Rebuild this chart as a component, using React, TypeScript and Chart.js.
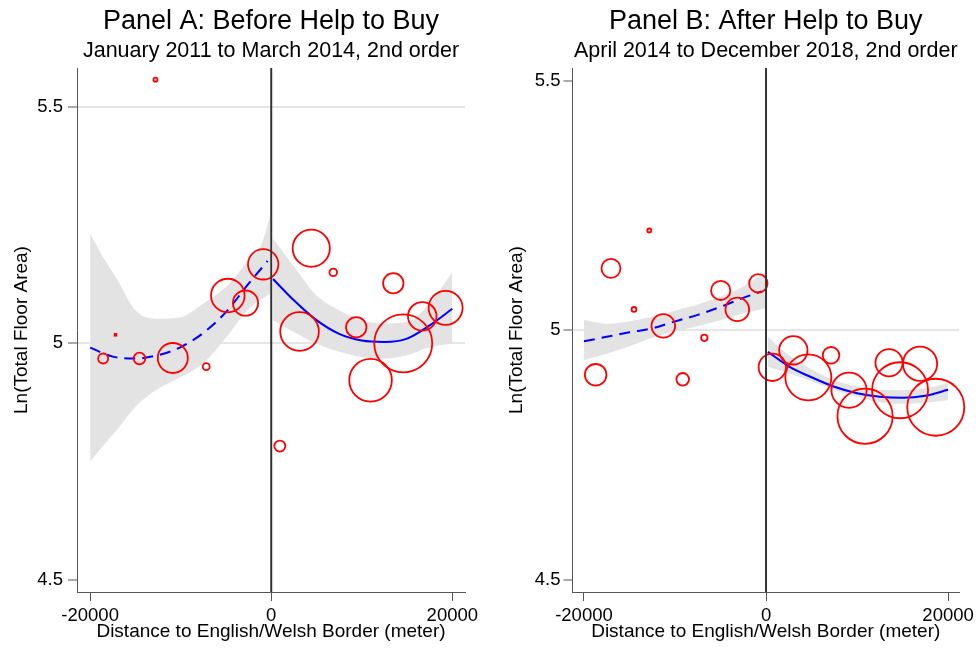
import React, { useEffect, useRef } from "react";
import { Chart, registerables } from "chart.js";

Chart.register(...registerables);

// ---------- shared ticks ----------
const xTickValues = [-20000, 0, 20000];
const yTickValues = [4.5, 5, 5.5];

// ---------- Panel A: Before Help to Buy ----------
const binXA = [-18560, -14550, -12785, -10870, -7180, -4795, -2840, -884, 950, 3127, 4420, 6850, 9390, 10970, 13480, 14580, 16680, 19260];
const binYA = [4.968, 4.968, 5.557, 4.969, 4.951, 5.101, 5.085, 5.167, 4.783, 5.025, 5.201, 5.150, 5.034, 4.922, 5.127, 5.0, 5.057, 5.075];
const binRadiusA = [5, 5.8, 2, 15, 3.5, 16.8, 12.6, 15.2, 5.5, 19.3, 18.6, 3.8, 10.2, 21.3, 10.2, 29, 14.3, 17];
const tinyXA = [-17200];
const tinyYA = [5.018];

const fitLeftXA = [-20000, -17500, -15000, -12500, -10000, -7500, -5000, -2500, -400];
const fitLeftYA = [4.991, 4.972, 4.968, 4.975, 4.992, 5.022, 5.066, 5.126, 5.174];
const bandLeftXA = [-20000, -18500, -17000, -15000, -12500, -10000, -7500, -5000, -2500, -1200, -100];
const bandLeftUpA = [5.231, 5.180, 5.135, 5.070, 5.052, 5.055, 5.084, 5.119, 5.175, 5.203, 5.270];
const bandLeftLoA = [4.750, 4.785, 4.818, 4.866, 4.904, 4.929, 4.958, 5.012, 5.072, 5.092, 5.105];

const fitRightXA = [200, 2500, 5000, 7500, 10000, 12500, 15000, 17500, 20000];
const fitRightYA = [5.136, 5.091, 5.049, 5.020, 5.006, 5.003, 5.010, 5.038, 5.073];
const bandRightUpA = [5.221, 5.163, 5.101, 5.070, 5.049, 5.042, 5.045, 5.084, 5.150];
const bandRightLoA = [5.049, 5.024, 4.999, 4.982, 4.971, 4.968, 4.975, 4.992, 4.999];

// ---------- Panel B: After Help to Buy ----------
const binXB = [-18714, -17033, -14505, -12824, -11286, -9154, -6780, -4978, -3154, -846, 692, 3000, 4648, 7143, 9121, 10879, 13516, 14725, 16923, 18648];
const binYB = [4.911, 5.124, 5.042, 5.200, 5.009, 4.902, 4.985, 5.080, 5.042, 5.094, 4.926, 4.960, 4.906, 4.950, 4.880, 4.828, 4.935, 4.880, 4.933, 4.846];
const binRadiusB = [10.8, 9.5, 2.4, 2, 11.8, 6.3, 3.2, 9.6, 11.8, 9.2, 13.7, 14.2, 23, 8.3, 17.6, 27.6, 13.6, 28, 17.1, 28.5];

const fitLeftXB = [-20000, -17500, -15000, -12500, -10000, -7500, -5000, -2500, -500];
const fitLeftYB = [4.978, 4.987, 4.996, 5.004, 5.018, 5.031, 5.047, 5.065, 5.078];
const bandLeftXB = [-20000, -17500, -15000, -12500, -10000, -7500, -5000, -2500, -100];
const bandLeftUpB = [5.021, 5.013, 5.018, 5.027, 5.040, 5.052, 5.068, 5.088, 5.117];
const bandLeftLoB = [4.940, 4.953, 4.968, 4.985, 4.998, 5.008, 5.020, 5.034, 5.044];

const fitRightXB = [200, 2500, 5000, 7500, 10000, 12500, 15000, 17500, 20000];
const fitRightYB = [4.957, 4.928, 4.906, 4.887, 4.874, 4.867, 4.865, 4.869, 4.881];
const bandRightUpB = [4.987, 4.950, 4.922, 4.900, 4.888, 4.881, 4.880, 4.884, 4.894];
const bandRightLoB = [4.927, 4.914, 4.898, 4.880, 4.867, 4.856, 4.853, 4.855, 4.860];

const FONT = "'Liberation Sans', Arial, Helvetica, sans-serif";

type Panel = {
  title: string;
  subtitle: string;
  binX: number[]; binY: number[]; binR: number[];
  tinyX: number[]; tinyY: number[];
  fitLX: number[]; fitLY: number[]; bandLX: number[]; bandLUp: number[]; bandLLo: number[];
  fitRX: number[]; fitRY: number[]; bandRUp: number[]; bandRLo: number[];
  xMin: number; xMax: number; yMin: number; yMax: number;
  gridValues: number[];
  yAxisWidth: number; yTitlePad: number; yTickPad: number; rightPad: number;
};

const pts = (xs: number[], ys: number[]) => xs.map((x, i) => ({ x, y: ys[i] }));

const zeroLinePlugin = {
  id: "zeroLine",
  afterDatasetsDraw(chart: any) {
    const { ctx, chartArea, scales } = chart;
    const x = scales.x.getPixelForValue(0);
    ctx.save();
    ctx.strokeStyle = "#333333";
    ctx.lineWidth = 2;
    ctx.beginPath();
    ctx.moveTo(x, chartArea.top);
    ctx.lineTo(x, chartArea.bottom);
    ctx.stroke();
    ctx.restore();
  },
};

function makeConfig(p: Panel): any {
  const band = (xs: number[], ys: number[], fill: any) => ({
    type: "line",
    data: pts(xs, ys),
    borderWidth: 0,
    borderColor: "rgba(0,0,0,0)",
    backgroundColor: "#e3e3e3",
    pointRadius: 0,
    fill,
    cubicInterpolationMode: "monotone",
    order: 3,
  });
  const fit = (xs: number[], ys: number[], dashed: boolean) => ({
    type: "line",
    data: pts(xs, ys),
    borderColor: "#0000ff",
    borderWidth: 2,
    borderDash: dashed ? [11, 7] : [],
    pointRadius: 0,
    fill: false,
    cubicInterpolationMode: "monotone",
    order: 2,
  });
  const datasets: any[] = [
    band(p.bandLX, p.bandLUp, "+1"),
    band(p.bandLX, p.bandLLo, false),
    band(p.fitRX, p.bandRUp, "+1"),
    band(p.fitRX, p.bandRLo, false),
    fit(p.fitLX, p.fitLY, true),
    fit(p.fitRX, p.fitRY, false),
    {
      type: "bubble",
      data: p.binX.map((x, i) => ({ x, y: p.binY[i], r: p.binR[i] })),
      borderColor: "#ff0000",
      backgroundColor: "rgba(0,0,0,0)",
      borderWidth: 1.8,
      clip: false,
      order: 1,
    },
  ];
  if (p.tinyX.length) {
    datasets.push({
      type: "scatter",
      data: pts(p.tinyX, p.tinyY),
      pointStyle: "rect",
      pointRadius: 2.5,
      backgroundColor: "#ff0000",
      borderWidth: 0,
      order: 1,
    });
  }
  return {
    type: "scatter",
    data: { datasets },
    plugins: [zeroLinePlugin],
    options: {
      animation: false,
      responsive: false,
      devicePixelRatio: 1,
      events: [],
      layout: { autoPadding: false, padding: { left: 0, right: p.rightPad, top: 0, bottom: 0 } },
      plugins: {
        legend: { display: false },
        tooltip: { enabled: false },
        filler: { drawTime: "beforeDatasetsDraw" },
        title: {
          display: true,
          text: p.title,
          color: "#000",
          fullSize: false,
          font: { family: FONT, size: 27, weight: "normal", lineHeight: 1.2 },
          padding: { top: 5.5, bottom: 0 },
        },
        subtitle: {
          display: true,
          text: p.subtitle,
          color: "#000",
          fullSize: false,
          font: { family: FONT, size: 21.5, weight: "normal", lineHeight: 1.2 },
          padding: { top: 0.5, bottom: 3.8 },
        },
      },
      scales: {
        x: {
          type: "linear",
          min: p.xMin,
          max: p.xMax,
          afterBuildTicks: (s: any) => { s.ticks = xTickValues.map((v) => ({ value: v })); },
          afterFit: (s: any) => { s.height = 59; s.paddingLeft = 0; s.paddingRight = 0; },
          ticks: {
            color: "#000",
            padding: 4,
            maxRotation: 0,
            autoSkip: false,
            font: { family: FONT, size: 18.5 },
            callback: (v: any) => String(v),
          },
          grid: {
            drawOnChartArea: false,
            drawTicks: true,
            tickLength: 9,
            tickColor: "#555555",
            tickWidth: 1,
          },
          border: { display: true, color: "#555555", width: 1 },
          title: {
            display: true,
            text: "Distance to English/Welsh Border (meter)",
            color: "#000",
            font: { family: FONT, size: 19, lineHeight: 1.2 },
            padding: { top: 0, bottom: 7.9 },
          },
        },
        y: {
          type: "linear",
          min: p.yMin,
          max: p.yMax,
          afterBuildTicks: (s: any) => { s.ticks = yTickValues.map((v) => ({ value: v })); },
          afterFit: (s: any) => { s.width = p.yAxisWidth; s.paddingTop = 0; s.paddingBottom = 0; },
          ticks: {
            color: "#000",
            padding: p.yTickPad,
            autoSkip: false,
            font: { family: FONT, size: 18.5 },
            callback: (v: any) => String(v),
          },
          grid: {
            drawOnChartArea: true,
            drawTicks: true,
            tickLength: 9,
            color: (c: any) => (c.tick && p.gridValues.includes(c.tick.value) ? "#e6e6e6" : "rgba(0,0,0,0)"),
            lineWidth: 2,
            tickColor: "#555555",
            tickWidth: 1,
          },
          border: { display: true, color: "#555555", width: 1 },
          title: {
            display: true,
            text: "Ln(Total Floor Area)",
            color: "#000",
            font: { family: FONT, size: 19, lineHeight: 1.2 },
            padding: { top: p.yTitlePad, bottom: 0 },
          },
        },
      },
    },
  };
}

const panelA: Panel = {
  title: "Panel A: Before Help to Buy",
  subtitle: "January 2011 to March 2014, 2nd order",
  binX: binXA, binY: binYA, binR: binRadiusA,
  tinyX: tinyXA, tinyY: tinyYA,
  fitLX: fitLeftXA, fitLY: fitLeftYA, bandLX: bandLeftXA, bandLUp: bandLeftUpA, bandLLo: bandLeftLoA,
  fitRX: fitRightXA, fitRY: fitRightYA, bandRUp: bandRightUpA, bandRLo: bandRightLoA,
  xMin: -21450, xMax: 21400, yMin: 4.4747, yMax: 5.5817,
  gridValues: [5, 5.5],
  yAxisWidth: 77, yTitlePad: 10.3, yTickPad: 5, rightPad: 25,
};

const panelB: Panel = {
  title: "Panel B: After Help to Buy",
  subtitle: "April 2014 to December 2018, 2nd order",
  binX: binXB, binY: binYB, binR: binRadiusB,
  tinyX: [], tinyY: [],
  fitLX: fitLeftXB, fitLY: fitLeftYB, bandLX: bandLeftXB, bandLUp: bandLeftUpB, bandLLo: bandLeftLoB,
  fitRX: fitRightXB, fitRY: fitRightYB, bandRUp: bandRightUpB, bandRLo: bandRightLoB,
  xMin: -21260, xMax: 21200, yMin: 4.476, yMax: 5.5254,
  gridValues: [5],
  yAxisWidth: 82.5, yTitlePad: 15.3, yTickPad: 3, rightPad: 21,
};

function PanelChart({ panel, left }: { panel: Panel; left: number }) {
  const ref = useRef<HTMLCanvasElement | null>(null);
  useEffect(() => {
    if (!ref.current) return;
    const chart = new Chart(ref.current, makeConfig(panel));
    return () => chart.destroy();
  }, [panel]);
  return (
    <canvas
      ref={ref}
      width={490}
      height={651}
      style={{ position: "absolute", left, top: 0, width: 490, height: 651 }}
    />
  );
}

export default function App() {
  return (
    <div style={{ position: "fixed", left: 0, top: 0, width: 980, height: 651, background: "#ffffff" }}>
      <PanelChart panel={panelA} left={0} />
      <PanelChart panel={panelB} left={490} />
    </div>
  );
}
